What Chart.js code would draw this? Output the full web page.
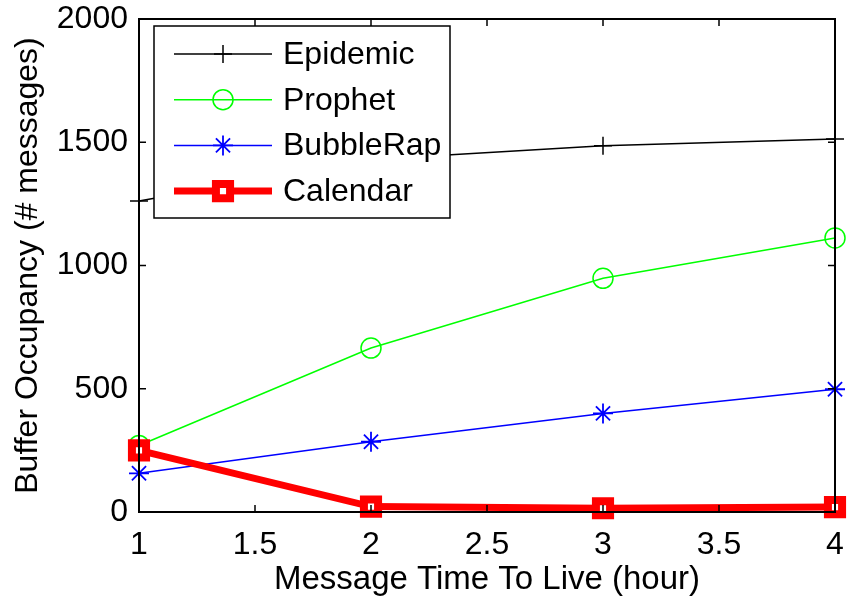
<!DOCTYPE html>
<html>
<head>
<meta charset="utf-8">
<title>Buffer Occupancy</title>
<script src="https://cdn.jsdelivr.net/npm/chart.js@4.4.0/dist/chart.umd.min.js"></script>
<style>
  html, body { margin: 0; padding: 0; background: #fff; }
  canvas { display: block; }
</style>
</head>
<body>
<canvas id="grafico" width="853" height="600"></canvas>
<script>
// dati: occupazione buffer al variare del TTL
const ttlOre = [1, 2, 3, 4];
const epidemic = [1262, 1430, 1486, 1513];
const prophet = [270, 665, 948, 1112];
const bubbleRap = [157, 285, 400, 498];
const calendar = [250, 22, 15, 20];

const xTicks = [1, 1.5, 2, 2.5, 3, 3.5, 4];
const yTicks = [0, 500, 1000, 1500, 2000];

const FONT = "'Liberation Sans', Arial, sans-serif";
const FONT_SIZE = 32;

function punti(valori) {
  return ttlOre.map((x, i) => ({ x: x, y: valori[i] }));
}

const serie = [
  { label: "Epidemic", data: punti(epidemic), borderColor: "#000000", borderWidth: 1.5,
    pointStyle: "cross", pointRadius: 9, pointBorderWidth: 1.5, pointBackgroundColor: "#000000", order: 4 },
  { label: "Prophet", data: punti(prophet), borderColor: "#00ff00", borderWidth: 1.5,
    pointStyle: "circle", pointRadius: 10, pointBorderWidth: 1.5, pointBackgroundColor: "rgba(0,0,0,0)", order: 3 },
  { label: "BubbleRap", data: punti(bubbleRap), borderColor: "#0000ff", borderWidth: 1.5,
    pointStyle: "star", pointRadius: 10, pointBorderWidth: 1.8, pointBackgroundColor: "#0000ff", order: 2 },
  { label: "Calendar", data: punti(calendar), borderColor: "#ff0000", borderWidth: 7,
    pointStyle: "rect", pointRadius: 10, pointBorderWidth: 8, pointBackgroundColor: "#ffffff", order: 1 }
];

serie.forEach((s) => {
  s.pointBorderColor = s.borderColor;
  s.tension = 0;
  s.fill = false;
  s.clip = false;
});

// cornice con tacche verso l'interno su tutti e quattro i lati
const cornice = {
  id: "cornice",
  afterDatasetsDraw(chart) {
    const { ctx, chartArea: a, scales } = chart;
    const len = 7;
    ctx.save();
    ctx.strokeStyle = "#000";
    ctx.lineWidth = 1.5;
    ctx.beginPath();
    xTicks.forEach((v) => {
      const px = scales.x.getPixelForValue(v);
      ctx.moveTo(px, a.bottom); ctx.lineTo(px, a.bottom - len);
      ctx.moveTo(px, a.top); ctx.lineTo(px, a.top + len);
    });
    yTicks.forEach((v) => {
      const py = scales.y.getPixelForValue(v);
      ctx.moveTo(a.left, py); ctx.lineTo(a.left + len, py);
      ctx.moveTo(a.right, py); ctx.lineTo(a.right - len, py);
    });
    ctx.stroke();
    ctx.lineWidth = 2;
    ctx.strokeRect(a.left, a.top, a.right - a.left, a.bottom - a.top);
    ctx.restore();
  }
};

// legenda in stile matlab, con linea e marcatore
const legenda = {
  id: "legenda",
  afterDraw(chart) {
    const { ctx, chartArea: a } = chart;
    const x0 = a.left + 15, y0 = a.top + 7;
    const w = 296, h = 192;
    ctx.save();
    ctx.fillStyle = "#fff";
    ctx.fillRect(x0, y0, w, h);
    ctx.strokeStyle = "#000";
    ctx.lineWidth = 1.5;
    ctx.strokeRect(x0, y0, w, h);
    chart.data.datasets.forEach((ds, i) => {
      const y = y0 + 28 + i * 45.7;
      ctx.strokeStyle = ds.borderColor;
      ctx.lineWidth = ds.borderWidth;
      ctx.beginPath();
      ctx.moveTo(x0 + 20, y);
      ctx.lineTo(x0 + 118, y);
      ctx.stroke();
      ctx.fillStyle = ds.pointBackgroundColor;
      ctx.strokeStyle = ds.pointBorderColor;
      ctx.lineWidth = ds.pointBorderWidth;
      Chart.helpers.drawPoint(ctx, {
        pointStyle: ds.pointStyle, radius: ds.pointRadius, rotation: 0, borderWidth: ds.pointBorderWidth
      }, x0 + 69, y);
      ctx.fillStyle = "#000";
      ctx.font = FONT_SIZE + "px " + FONT;
      ctx.textBaseline = "middle";
      ctx.textAlign = "left";
      ctx.fillText(ds.label, x0 + 129, y + 1);
    });
    ctx.restore();
  }
};

// niente margini extra per le etichette ai bordi
function senzaPadding(scale) {
  scale.paddingTop = 0;
  scale.paddingBottom = 0;
  scale.paddingLeft = 0;
  scale.paddingRight = 0;
}

const ctx = document.getElementById("grafico").getContext("2d");
new Chart(ctx, {
  type: "line",
  data: { datasets: serie },
  plugins: [cornice, legenda],
  options: {
    responsive: false,
    animation: false,
    events: [],
    layout: { padding: { top: 19, right: 14, left: 0, bottom: 0 } },
    plugins: { legend: { display: false }, tooltip: { enabled: false } },
    scales: {
      x: {
        type: "linear",
        min: 1,
        max: 4,
        afterBuildTicks(scale) { scale.ticks = xTicks.map((v) => ({ value: v })); },
        afterFit(scale) { scale.height = 88; senzaPadding(scale); },
        ticks: { color: "#000", font: { family: FONT, size: FONT_SIZE }, padding: 14, maxRotation: 0, autoSkip: false,
                 callback: (v) => String(v) },
        grid: { display: false, drawTicks: false },
        border: { display: false },
        title: { display: true, text: "Message Time To Live (hour)", color: "#000",
                 font: { family: FONT, size: 33 }, padding: { top: 4, bottom: 0 } }
      },
      y: {
        type: "linear",
        min: 0,
        max: 2000,
        afterBuildTicks(scale) { scale.ticks = yTicks.map((v) => ({ value: v })); },
        afterFit(scale) { scale.width = 139; senzaPadding(scale); },
        ticks: { color: "#000", font: { family: FONT, size: FONT_SIZE }, padding: 11,
                 callback: (v) => String(v) },
        grid: { display: false, drawTicks: false },
        border: { display: false },
        title: { display: true, text: "Buffer Occupancy (# messages)", color: "#000",
                 font: { family: FONT, size: FONT_SIZE }, padding: { top: 9, bottom: 0 } }
      }
    }
  }
});
</script>
</body>
</html>
